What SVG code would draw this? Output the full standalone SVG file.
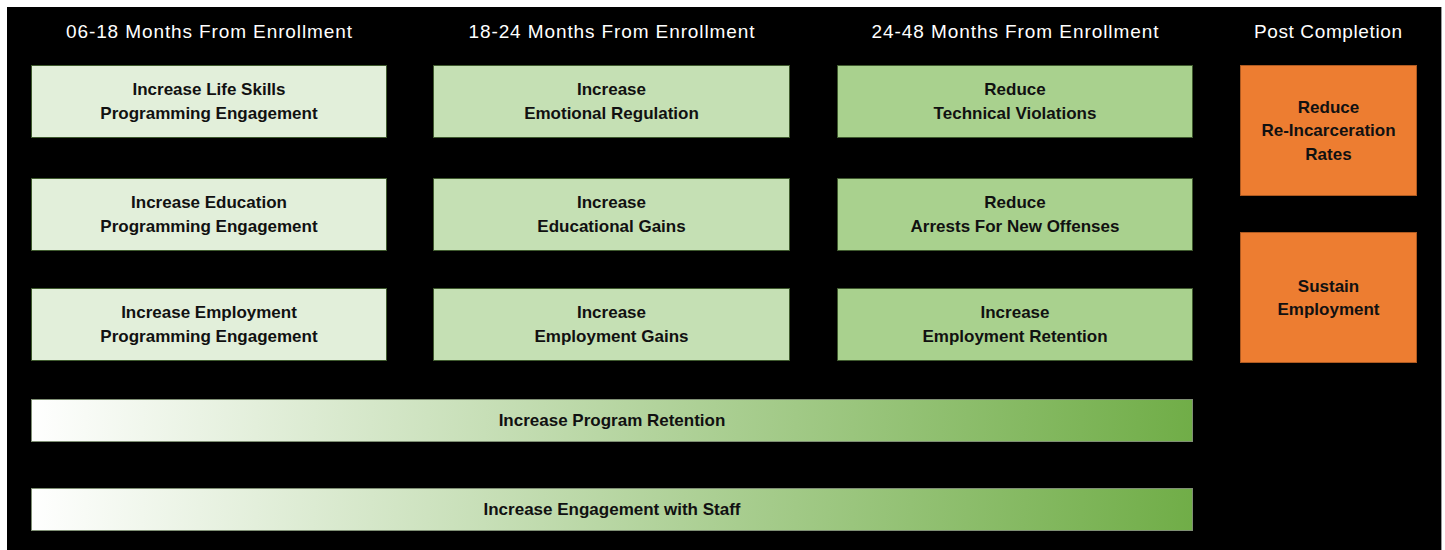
<svg xmlns="http://www.w3.org/2000/svg" width="1445" height="550" viewBox="0 0 1445 550">
  <style>
    .hd { font-family: "Liberation Sans", Arial, sans-serif; font-size: 19px; fill: #FFFFFF; text-anchor: middle; }
    .lb { font-family: "Liberation Sans", Arial, sans-serif; font-size: 17px; font-weight: bold; fill: #111111; text-anchor: middle; }
    .c1 { fill: #E2EFDA; stroke: #3F5A2E; stroke-width: 1; }
    .c2 { fill: #C5E0B4; stroke: #3F5A2E; stroke-width: 1; }
    .c3 { fill: #A9D18E; stroke: #3F5A2E; stroke-width: 1; }
    .or { fill: #ED7D31; stroke: #AE5A21; stroke-width: 1; }
    .bar { stroke: #7F8F74; stroke-width: 1; }
  </style>
  <defs>
    <linearGradient id="gr1" gradientUnits="userSpaceOnUse" x1="31" y1="380" x2="1193" y2="460">
      <stop offset="0" stop-color="#FFFFFF"/>
      <stop offset="1" stop-color="#70AD47"/>
    </linearGradient>
    <linearGradient id="gr2" gradientUnits="userSpaceOnUse" x1="31" y1="469" x2="1193" y2="549">
      <stop offset="0" stop-color="#FFFFFF"/>
      <stop offset="1" stop-color="#70AD47"/>
    </linearGradient>
  </defs>
  <rect x="0" y="0" width="1445" height="550" fill="#FFFFFF"/>
  <rect x="7" y="7" width="1434" height="543" fill="#000000"/>
  <line x1="1441.5" y1="7" x2="1441.5" y2="550" stroke="#9A9A9A" stroke-width="1"/>

  <g id="headers">
    <text class="hd" x="209" y="37.5" textLength="286" lengthAdjust="spacing">06-18 Months From Enrollment</text>
    <text class="hd" x="611.5" y="37.5" textLength="286" lengthAdjust="spacing">18-24 Months From Enrollment</text>
    <text class="hd" x="1015" y="37.5" textLength="287" lengthAdjust="spacing">24-48 Months From Enrollment</text>
    <text class="hd" x="1328" y="37.5" textLength="148" lengthAdjust="spacing">Post Completion</text>
  </g>

  <g id="n-life-skills">
    <rect class="c1" x="31.5" y="65.5" width="355" height="72"/>
    <text class="lb" x="209" y="95">Increase Life Skills</text>
    <text class="lb" x="209" y="118.5">Programming Engagement</text>
  </g>
  <g id="n-education">
    <rect class="c1" x="31.5" y="178.5" width="355" height="72"/>
    <text class="lb" x="209" y="208">Increase Education</text>
    <text class="lb" x="209" y="231.5">Programming Engagement</text>
  </g>
  <g id="n-employment">
    <rect class="c1" x="31.5" y="288.5" width="355" height="72"/>
    <text class="lb" x="209" y="318">Increase Employment</text>
    <text class="lb" x="209" y="341.5">Programming Engagement</text>
  </g>

  <g id="n-emotional">
    <rect class="c2" x="433.5" y="65.5" width="356" height="72"/>
    <text class="lb" x="611.5" y="95">Increase</text>
    <text class="lb" x="611.5" y="118.5">Emotional Regulation</text>
  </g>
  <g id="n-edu-gains">
    <rect class="c2" x="433.5" y="178.5" width="356" height="72"/>
    <text class="lb" x="611.5" y="208">Increase</text>
    <text class="lb" x="611.5" y="231.5">Educational Gains</text>
  </g>
  <g id="n-emp-gains">
    <rect class="c2" x="433.5" y="288.5" width="356" height="72"/>
    <text class="lb" x="611.5" y="318">Increase</text>
    <text class="lb" x="611.5" y="341.5">Employment Gains</text>
  </g>

  <g id="n-technical">
    <rect class="c3" x="837.5" y="65.5" width="355" height="72"/>
    <text class="lb" x="1015" y="95">Reduce</text>
    <text class="lb" x="1015" y="118.5">Technical Violations</text>
  </g>
  <g id="n-arrests">
    <rect class="c3" x="837.5" y="178.5" width="355" height="72"/>
    <text class="lb" x="1015" y="208">Reduce</text>
    <text class="lb" x="1015" y="231.5">Arrests For New Offenses</text>
  </g>
  <g id="n-retention">
    <rect class="c3" x="837.5" y="288.5" width="355" height="72"/>
    <text class="lb" x="1015" y="318">Increase</text>
    <text class="lb" x="1015" y="341.5">Employment Retention</text>
  </g>

  <g id="n-reincarceration">
    <rect class="or" x="1240.5" y="65.5" width="176" height="130"/>
    <text class="lb" x="1328.5" y="113">Reduce</text>
    <text class="lb" x="1328.5" y="136.3">Re-Incarceration</text>
    <text class="lb" x="1328.5" y="159.5">Rates</text>
  </g>
  <g id="n-sustain">
    <rect class="or" x="1240.5" y="232.5" width="176" height="130"/>
    <text class="lb" x="1328.5" y="292">Sustain</text>
    <text class="lb" x="1328.5" y="315.3">Employment</text>
  </g>

  <g id="n-program-retention">
    <rect class="bar" fill="url(#gr1)" x="31.5" y="399.5" width="1161" height="42"/>
    <text class="lb" x="612" y="426">Increase Program Retention</text>
  </g>
  <g id="n-staff">
    <rect class="bar" fill="url(#gr2)" x="31.5" y="488.5" width="1161" height="42"/>
    <text class="lb" x="612" y="515">Increase Engagement with Staff</text>
  </g>

  <g id="connectors"></g>
</svg>
